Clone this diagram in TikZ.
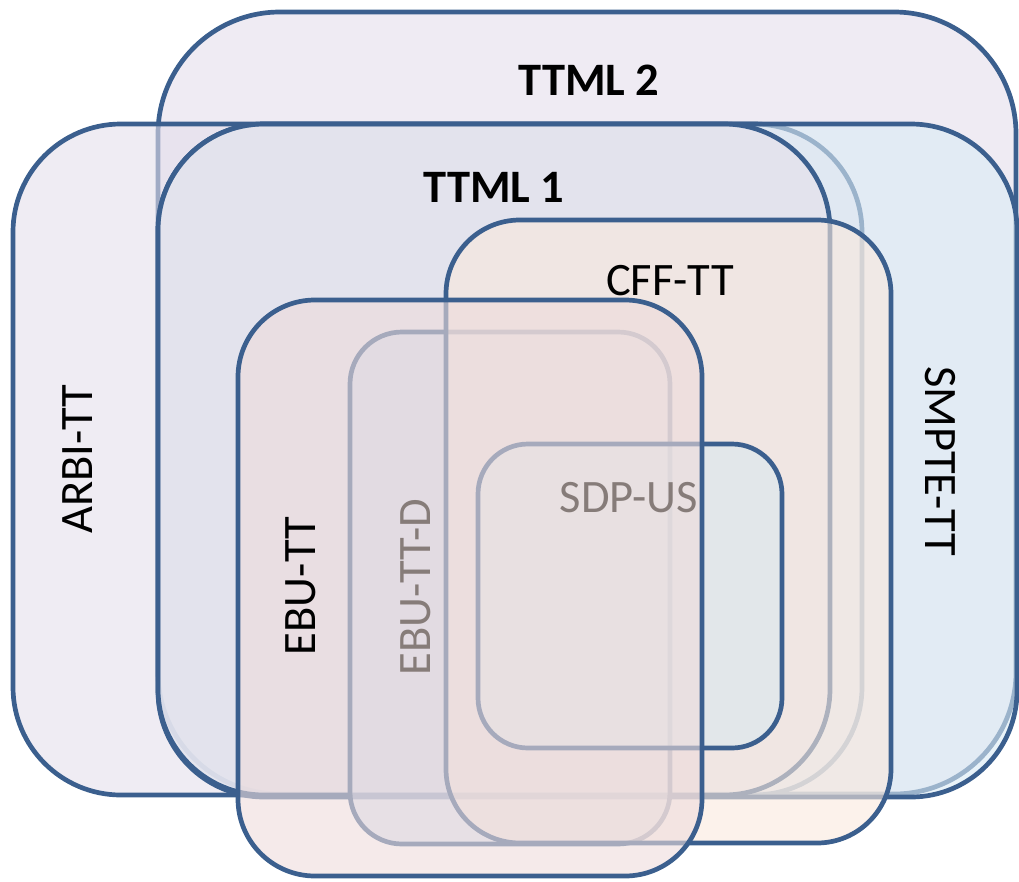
\documentclass[tikz,border=0pt]{standalone}
\usepackage{fontspec}
\setmainfont{Carlito}
\definecolor{edgeblue}{RGB}{59,95,142}
\definecolor{fTTMLtwo}{RGB}{228,222,235}
\definecolor{fARBI}{RGB}{228,223,235}
\definecolor{fSMPTE}{RGB}{219,235,245}
\definecolor{fTTMLone}{RGB}{229,225,235}
\definecolor{fEBUD}{RGB}{200,215,237}
\definecolor{fCFF}{RGB}{250,233,221}
\definecolor{fSDP}{RGB}{218,233,240}
\definecolor{fEBU}{RGB}{238,220,220}
\definecolor{textgray}{RGB}{134,124,121}
\begin{document}
\begin{tikzpicture}[x=1pt,y=-1pt,
  setbox/.style={draw=edgeblue, line width=4.7pt, fill opacity=0.6},
  lbl/.style={inner sep=0pt, anchor=base, font=\fontsize{46.5}{50}\selectfont},
  blbl/.style={lbl, font=\fontsize{46.5}{50}\selectfont\bfseries},
]
\useasboundingbox (0,0) rectangle (1019,881);
% sets, back to front
\draw[setbox, fill=fTTMLtwo, rounded corners=122pt] (158,12) rectangle (1016,794);
\draw[setbox, fill=fARBI, rounded corners=108pt] (13,124) rectangle (862,795);
\draw[setbox, fill=fSMPTE, rounded corners=106pt] (158,124) rectangle (1017,797);
\draw[setbox, fill=fTTMLone, rounded corners=106pt] (158,124) rectangle (830,795);
\draw[setbox, fill=fEBUD, rounded corners=52pt] (350,332) rectangle (670,844);
\draw[setbox, fill=fCFF, rounded corners=74pt] (446,220) rectangle (891,843);
\draw[setbox, fill=fSDP, rounded corners=50pt] (478,444) rectangle (782,748);
\draw[setbox, fill=fEBU, rounded corners=77pt] (238,300) rectangle (702,876);
% labels
\node[blbl] (ttml2) at (589,95) {TTML 2};
\node[blbl] (ttml1) at (494,202) {TTML 1};
\node[lbl] (cff) at (670,295) {CFF-TT};
\node[lbl, rotate=90] (arbi) at (92,459) {ARBI-TT};
\node[lbl, rotate=-90] (smpte) at (925,461) {SMPTE-TT};
\node[lbl, rotate=90] (ebu) at (315,586) {EBU-TT};
\node[lbl, rotate=90, text=textgray] (ebud) at (430,587) {EBU-TT-D};
\node[lbl, text=textgray] (sdp) at (629,512) {SDP-US};
\end{tikzpicture}
\end{document}
